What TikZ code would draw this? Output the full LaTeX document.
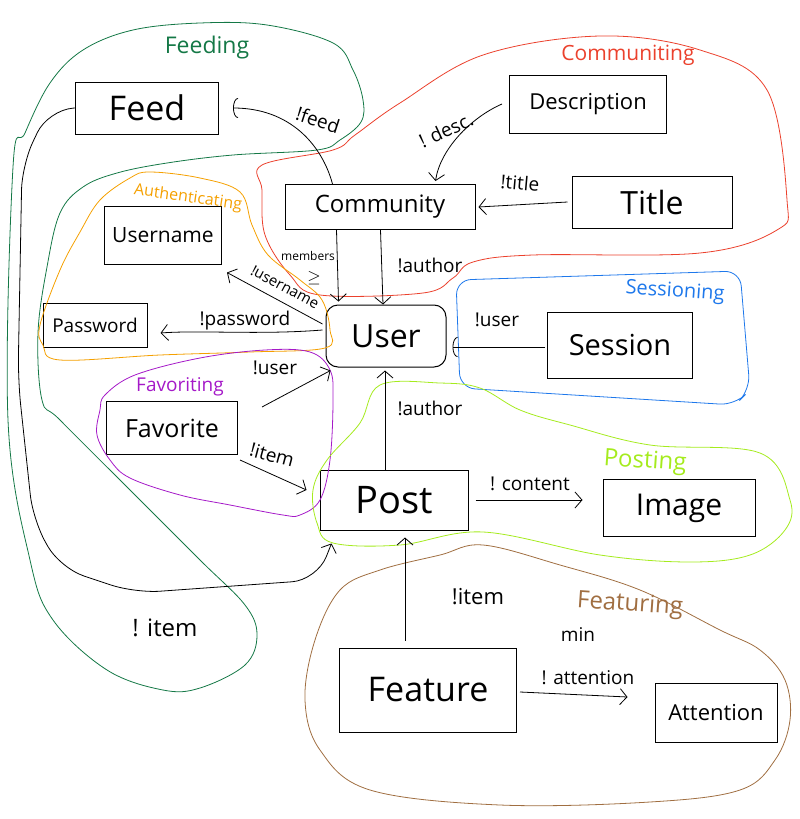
\documentclass[tikz,border=0pt]{standalone}
\usepackage{fontspec}
\setmainfont{Open Sans}
\usetikzlibrary{arrows.meta,calc}
\definecolor{feedgreen}{RGB}{20,120,70}
\definecolor{commred}{RGB}{235,65,45}
\definecolor{authorange}{RGB}{245,160,0}
\definecolor{sessblue}{RGB}{30,120,235}
\definecolor{favpurple}{RGB}{165,25,200}
\definecolor{postlime}{RGB}{165,235,30}
\definecolor{featbrown}{RGB}{160,110,65}
\newcommand{\fsz}[1]{\fontsize{#1}{#1}\selectfont}

\begin{document}
\begin{tikzpicture}[x=1pt, y=-1pt,
    box/.style={draw, rectangle, line width=1pt, inner sep=0pt},
    blob/.style={line width=0.8pt},
    lbl/.style={font=\fsz{19}, inner sep=1pt},
    arr/.style={line width=0.8pt, -{Straight Barb[length=7pt,width=16pt]}},
    arc/.style={line width=0.8pt, -{Arc Barb[length=5pt,width=20pt]}}]
    \useasboundingbox (0,0) rectangle (800,819);

    % Boxes
    \node[box, minimum width=143, minimum height=52, font=\fsz{34}] (feed) at (147,108) {Feed};
    \node[box, minimum width=190, minimum height=45, font=\fsz{24}] (community) at (380,207) {Community};
    \node[box, minimum width=157, minimum height=58, font=\fsz{22}] (description) at (588,104) {Description};
    \node[box, minimum width=160, minimum height=52, font=\fsz{32}] (title) at (652,202) {Title};
    \node[box, minimum width=117, minimum height=58, font=\fsz{21}] (username) at (163,235) {Username};
    \node[box, minimum width=104, minimum height=44, font=\fsz{19}] (password) at (95,325) {Password};
    \node[box, minimum width=120, minimum height=62, font=\fsz{32}, rounded corners=12] (user) at (386,336) {User};
    \node[box, minimum width=145, minimum height=66, font=\fsz{29}] (session) at (620,345) {Session};
    \node[box, minimum width=131, minimum height=53, font=\fsz{25}] (favorite) at (172,428) {Favorite};
    \node[box, minimum width=148, minimum height=60, font=\fsz{38}] (post) at (394,500) {Post};
    \node[box, minimum width=152, minimum height=57, font=\fsz{30}] (image) at (679,508) {Image};
    \node[box, minimum width=177, minimum height=84, font=\fsz{34}] (feature) at (428,690) {Feature};
    \node[box, minimum width=122, minimum height=59, font=\fsz{22}] (attention) at (716,713) {Attention};

    % Groups
    \draw[blob, feedgreen] plot[smooth cycle, tension=0.6] coordinates {(8,420) (13,167) (25,133) (50,83) (83,50) (133,30) (200,23) (267,25) (333,43) (353,70) (363,100) (361,122) (340,140) (317,150) (233,155) (167,163) (117,173) (83,187) (60,213) (47,267) (38,333) (42,400) (60,420) (130,490) (200,560) (245,605) (257,635) (245,665) (200,688) (163,690) (107,670) (53,620) (30,560)};
    \node[font=\fsz{23}, text=feedgreen] (feeding) at (207,48) {Feeding};

    \draw[blob, commred] plot[smooth cycle, tension=0.6] coordinates {(262,165) (333,150) (355,135) (400,103) (483,55) (600,36) (700,50) (767,90) (787,200) (777,230) (700,253) (533,255) (473,262) (453,278) (423,293) (320,295) (290,275) (265,235) (262,190)};
    \node[font=\fsz{21}, text=commred] (communiting) at (628,55) {Communiting};

    \draw[blob, authorange] plot[smooth cycle, tension=0.6] coordinates {(150,172) (200,178) (240,192) (252,225) (268,255) (300,280) (322,300) (330,330) (325,348) (250,352) (160,355) (60,360) (43,345) (40,325) (60,270) (80,232) (100,200) (130,178)};
    \node[font=\fsz{16}, text=authorange, rotate=-8] (authenticating) at (188,198) {Authenticating};

    \draw[blob, sessblue, rounded corners=15] (460,388) -- (456,280) -- (740,271) -- (750,390) -- (735,405) -- cycle;
    \node[font=\fsz{20}, text=sessblue, rotate=-4] (sessioning) at (675,292) {Sessioning};

    \draw[blob, favpurple] plot[smooth cycle, tension=0.6] coordinates {(105,395) (135,375) (200,358) (265,350) (310,352) (330,370) (333,400) (330,460) (320,500) (300,515) (283,515) (230,505) (180,495) (130,478) (110,460) (97,435) (100,410)};
    \node[font=\fsz{19}, text=favpurple] (favoriting) at (180,387) {Favoriting};

    \draw[blob, postlime] plot[smooth cycle, tension=0.6] coordinates {(380,385) (440,383) (480,388) (520,410) (570,425) (650,445) (760,453) (790,500) (785,530) (750,555) (690,562) (600,555) (483,532) (400,545) (333,543) (317,523) (313,490) (327,460) (360,423)};
    \node[font=\fsz{24}, text=postlime, rotate=-4] (posting) at (645,462) {Posting};

    \draw[blob, featbrown] plot[smooth cycle, tension=0.6] coordinates {(483,545) (440,555) (380,570) (340,590) (315,640) (305,700) (320,750) (370,790) (500,805) (650,802) (740,790) (775,760) (790,720) (785,680) (760,650) (720,630) (640,590) (560,565)};
    \node[font=\fsz{24}, text=featbrown, rotate=-4] (featuring) at (630,605) {Featuring};

    % Connectors
    \draw[arc] ($(community.north west)+(48,0)$) .. controls (322,145) and (290,108) .. ($(feed.east)+(14,0)$);
    \node[lbl, rotate=-18] (l-feed) at (318,120) {!feed};

    \draw[arr] ($(description.west)+(-7,0)$) .. controls (470,118) and (440,150) .. ($(community.north east)+(-40,-3)$);
    \node[lbl, rotate=25] (l-desc) at (446,130) {! desc.};

    \draw[arr] ($(title.west)+(-4,0)$) -- ($(community.east)+(3,0)$);
    \node[lbl, rotate=-5] (l-title) at (520,183) {!title};

    \draw[arr] ($(community.south west)+(52,0)$) -- ($(user.north west)+(13,-3)$);
    \node[font=\fsz{12}] (l-members) at (308,256) {members};
    \node[font=\fsz{16}] (l-geq) at (314,278) {$\geq$};

    \draw[arr] ($(community.south west)+(96,0)$) -- ($(user.north)+(-3,0)$);
    \node[lbl] (l-author) at (430,265) {!author};

    \draw[arc] ($(session.west)+(-2,2)$) -- ($(user.east)+(6,11)$);
    \node[lbl] (l-user) at (497,320) {!user};

    \draw[arr] ($(user.west)+(-3,-12)$) -- ($(username.south east)+(5,8)$);
    \node[font=\fsz{15}, rotate=-28] (l-username) at (285,287) {!username};

    \draw[arr] ($(user.west)+(-3,-6)$) .. controls (260,335) and (200,330) .. ($(password.east)+(13,8)$);
    \node[lbl] (l-password) at (245,321) {!password};

    \draw[arr] ($(favorite.north east)+(24,6)$) -- ($(user.south west)+(5,3)$);
    \node[lbl] (l-favuser) at (275,368) {!user};

    \draw[arr] ($(favorite.south east)+(2,5)$) -- ($(post.west)+(-13,-10)$);
    \node[lbl, rotate=-15] (l-favitem) at (272,455) {!item};

    \draw[arr] ($(post.north)+(-9,0)$) -- ($(user.south)+(-1,3)$);
    \node[lbl] (l-postauthor) at (430,408) {!author};

    \draw[arr, rounded corners=25] (feed.west) -- (48,110) -- (22,165) -- (18,380) -- (33,520) -- (60,568) -- (135,593) -- (317,580) [sharp corners] -- ($(post.south west)+(12,13)$);
    \node[font=\fsz{24}] (l-feeditem) at (165,628) {! item};

    \draw[arr] ($(post.east)+(7,0)$) -- ($(image.west)+(-20,-8)$);
    \node[lbl] (l-content) at (530,484) {! content};

    \draw[arr] ($(feature.north)+(-23,-7)$) -- ($(post.south)+(11,7)$);
    \node[font=\fsz{22}] (l-featitem) at (478,597) {!item};

    \draw[arr] ($(feature.east)+(3,2)$) -- ($(attention.west)+(-27,-16)$);
    \node[lbl] (l-min) at (578,635) {min};
    \node[lbl] (l-attention) at (588,678) {! attention};
\end{tikzpicture}
\end{document}
